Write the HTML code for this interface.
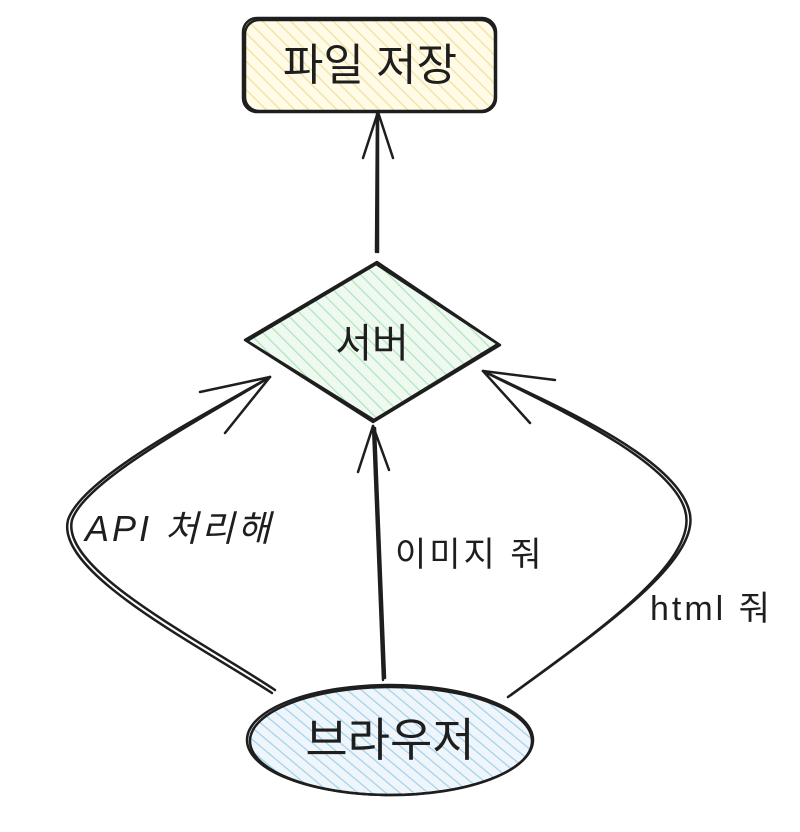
<!DOCTYPE html>
<html><head><meta charset="utf-8"><style>
html,body{margin:0;padding:0;background:#fff;}
svg{display:block;}
text{font-family:"Liberation Sans","Noto Sans CJK KR",sans-serif;fill:#1e1e1e;}
</style></head><body>
<svg width="800" height="832" viewBox="0 0 800 832" xmlns="http://www.w3.org/2000/svg">
<defs>
<pattern id="hy" patternUnits="userSpaceOnUse" width="10" height="10" patternTransform="rotate(-45)">
<rect width="10" height="10" fill="#fffbe6"/><line x1="0" y1="0" x2="0" y2="10" stroke="#f0e0a0" stroke-width="2.5"/></pattern>
<pattern id="hg" patternUnits="userSpaceOnUse" width="10" height="10" patternTransform="rotate(-45)">
<rect width="10" height="10" fill="#eefaf0"/><line x1="0" y1="0" x2="0" y2="10" stroke="#b2e2bd" stroke-width="2.5"/></pattern>
<pattern id="hb" patternUnits="userSpaceOnUse" width="9" height="9" patternTransform="rotate(-50)">
<rect width="9" height="9" fill="#eef6fb"/><line x1="0" y1="0" x2="0" y2="9" stroke="#a5d0ea" stroke-width="2.5"/></pattern>
</defs>
<g stroke="#1e1e1e" stroke-width="2.5" fill="none" stroke-linecap="round" stroke-linejoin="round">
<rect x="243" y="18" width="253" height="94" rx="14" fill="url(#hy)"/>
<rect x="245" y="20" width="250" height="91" rx="14"/>
<path d="M377,262 L500,345 L373,422 L245,340 Z" fill="url(#hg)"/>
<path d="M376,264 L498,344 L374,420 L247,341 Z"/>
<ellipse cx="390" cy="740" rx="143" ry="55" fill="url(#hb)"/>
<ellipse cx="391" cy="741" rx="141" ry="54"/>
<path d="M378,252 L378,112"/><path d="M376,252 L377,114"/>
<path d="M378,112 L363,158 M378,112 L393,158"/>
<path d="M383,680 L373,426"/><path d="M385,678 L375,428"/>
<path d="M373,426 L358,472 M373,426 L389,470"/>
<path d="M275,690 C200,640 60,570 72,520 C85,480 200,420 270,377"/>
<path d="M272,693 C195,643 55,572 68,520 C82,478 198,418 270,377"/>
<path d="M270,377 L200,392 M270,377 L225,433"/>
<path d="M508,697 C600,630 700,560 685,510 C670,460 560,410 483,371"/>
<path d="M511,695 C603,628 704,558 689,510 C674,458 562,408 483,371"/>
<path d="M483,371 L555,380 M483,371 L530,423"/>
</g>
<text x="370" y="80" font-size="44" text-anchor="middle">파일 저장</text>
<text x="372" y="357" font-size="40" text-anchor="middle">서버</text>
<text x="390" y="756" font-size="46" text-anchor="middle">브라우저</text>
<text x="85" y="541" font-size="36" font-style="italic" letter-spacing="3">API 처리해</text>
<text x="395" y="566" font-size="34" letter-spacing="3">이미지 줘</text>
<text x="650" y="620" font-size="34" letter-spacing="3">html 줘</text>
</svg>
</body></html>
